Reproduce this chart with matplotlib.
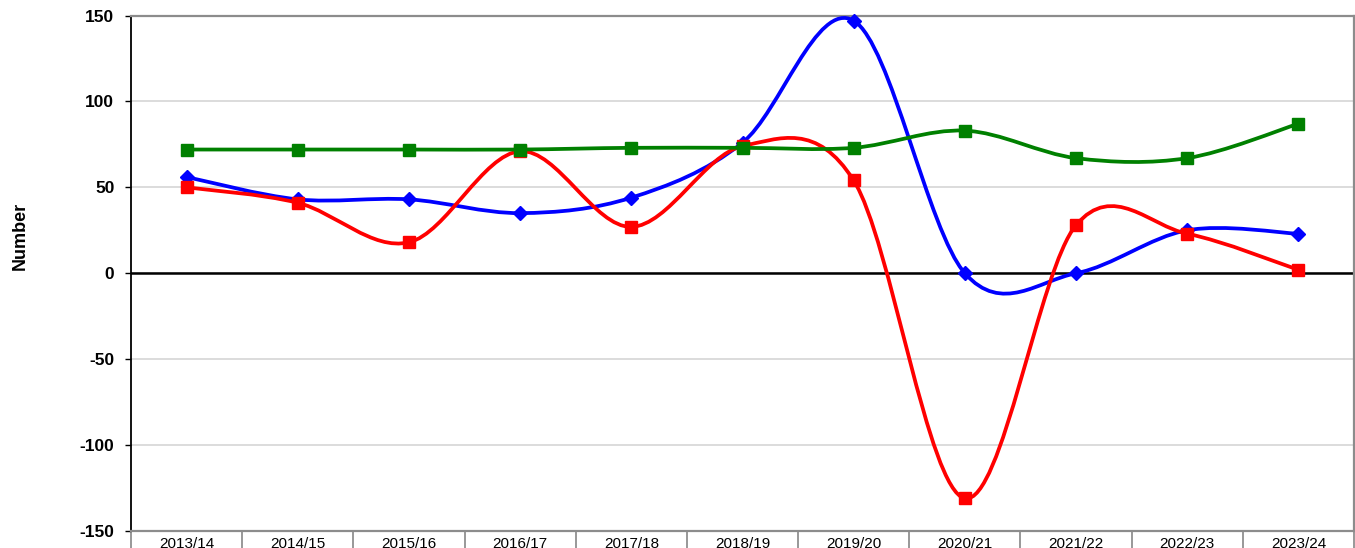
import matplotlib
matplotlib.use("Agg")
import matplotlib.pyplot as plt
from matplotlib.path import Path
from matplotlib.patches import PathPatch
import numpy as np

categories = ["2013/14", "2014/15", "2015/16", "2016/17", "2017/18", "2018/19",
              "2019/20", "2020/21", "2021/22", "2022/23", "2023/24"]
blue_values = [56, 43, 43, 35, 44, 76, 147, 0, 0, 25, 23]
red_values = [50, 41, 18, 71, 27, 74, 54, -131, 28, 23, 2]
green_values = [72, 72, 72, 72, 73, 73, 73, 83, 67, 67, 87]
y_ticks = [-150, -100, -50, 0, 50, 100, 150]

plt.rcParams['font.family'] = ['Liberation Sans', 'DejaVu Sans']

fig = plt.figure(figsize=(13.55, 5.48), dpi=100)
ax = fig.add_axes([131 / 1355, 1 - 531 / 548, (1354 - 131) / 1355, (531 - 15.5) / 548])


def smooth_path(xs, ys):
    pts = np.column_stack([xs, ys]).astype(float)
    n = len(pts)
    verts = [pts[0]]
    codes = [Path.MOVETO]
    for i in range(n - 1):
        p0 = pts[i - 1] if i > 0 else pts[i]
        p1 = pts[i]
        p2 = pts[i + 1]
        p3 = pts[i + 2] if i + 2 < n else pts[i + 1]
        c1 = p1 + (p2 - p0) / 6.0
        c2 = p2 - (p3 - p1) / 6.0
        verts += [c1, c2, p2]
        codes += [Path.CURVE4] * 3
    return Path(verts, codes)


x = np.arange(len(categories))
series = [
    (blue_values, "#0000FF", "D", 7, 3),
    (red_values, "#FF0000", "s", 8, 4),
    (green_values, "#008000", "s", 8, 5),
]
for vals, col, mk, ms, z in series:
    patch = PathPatch(smooth_path(x, vals), facecolor="none", edgecolor=col,
                      lw=2.7, zorder=z, capstyle="round", joinstyle="round")
    ax.add_patch(patch)
    ax.plot(x, vals, linestyle="none", marker=mk, markersize=ms, color=col,
            markeredgecolor=col, zorder=z + 0.5, clip_on=False)

ax.set_xlim(-0.5, len(categories) - 0.5)
ax.set_ylim(-150, 150)
ax.set_yticks(y_ticks)
ax.set_yticklabels([str(v) for v in y_ticks], fontsize=12.5, fontweight="bold")
ax.tick_params(axis="y", length=4, width=1, color="#000000", pad=8, direction="out")

ax.set_xticks(x)
ax.set_xticklabels(categories, fontsize=11)
ax.tick_params(axis="x", which="major", length=0, pad=4)
ax.set_xticks(np.arange(-0.5, len(categories), 1.0), minor=True)
ax.tick_params(axis="x", which="minor", length=14, width=1.3, color="#909090", direction="out")

ax.grid(axis="y", color="#d9d9d9", lw=1.3, zorder=0)
ax.set_axisbelow(True)
ax.axhline(0, color="#000000", lw=1.8, zorder=2)

ax.spines["left"].set_color("#000000")
ax.spines["left"].set_linewidth(1.3)
for s in ["top", "right", "bottom"]:
    ax.spines[s].set_color("#8c8c8c")
    ax.spines[s].set_linewidth(1.6)

fig.text(20 / 1355, 1 - 236 / 548, "Number", rotation=90, fontsize=13,
         fontweight="bold", ha="center", va="center")

fig.savefig("out.png", dpi=100)
